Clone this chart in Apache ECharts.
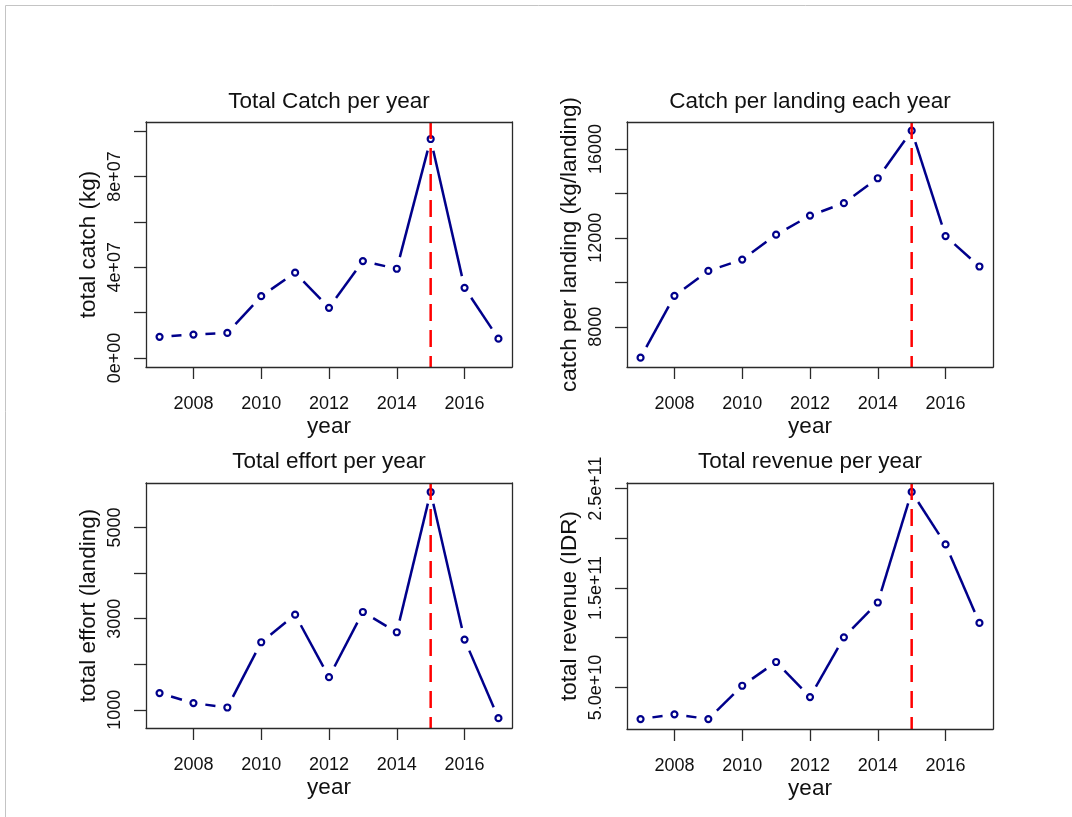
<!DOCTYPE html>
<html>
<head>
<meta charset="utf-8">
<script src="https://cdn.jsdelivr.net/npm/echarts@6/dist/echarts.min.js"></script>
<style>
  html, body { margin: 0; padding: 0; background: #fff; }
  #chart { width: 1072px; height: 817px; }
</style>
</head>
<body>
<div id="chart"></div>
<script>
// Fishery summary, 2007-2017
const years = [2007, 2008, 2009, 2010, 2011, 2012, 2013, 2014, 2015, 2016, 2017];
const totalCatch = [9.3e6, 1.03e7, 1.1e7, 2.72e7, 3.76e7, 2.21e7, 4.27e7, 3.93e7, 9.65e7, 3.09e7, 8.5e6];
const catchPerLanding = [6610, 9390, 10510, 11020, 12140, 13000, 13560, 14680, 16820, 12080, 10710];
const totalEffort = [1366, 1147, 1050, 2482, 3087, 1716, 3146, 2701, 5780, 2540, 815];
const totalRevenue = [1.82e10, 2.3e10, 1.82e10, 5.17e10, 7.56e10, 4.03e10, 1.004e11, 1.354e11, 2.466e11, 1.938e11, 1.149e11];
const peakYear = 2015;

// axis ticks and labels
const yearTicks = [2008, 2010, 2012, 2014, 2016];
const catchTicks = [0, 2e7, 4e7, 6e7, 8e7, 1e8];
const catchLabelValues = [0, 4e7, 8e7];
const catchLabelText = ['0e+00', '4e+07', '8e+07'];
const cplTicks = [8000, 10000, 12000, 14000, 16000];
const cplLabelValues = [8000, 12000, 16000];
const cplLabelText = ['8000', '12000', '16000'];
const effortTicks = [1000, 2000, 3000, 4000, 5000];
const effortLabelValues = [1000, 3000, 5000];
const effortLabelText = ['1000', '3000', '5000'];
const revenueTicks = [5e10, 1e11, 1.5e11, 2e11, 2.5e11];
const revenueLabelValues = [5e10, 1.5e11, 2.5e11];
const revenueLabelText = ['5.0e+10', '1.5e+11', '2.5e+11'];

const FONT = "'Liberation Sans', Arial, Helvetica, sans-serif";
const TEXT = '#111';
const BOX = '#2a2a2a';
const NAVY = '#00008B';
const RED = '#FF0000';
const POINT_GAP = 12; // segments stop this many pixels short of each point

const panels = [
  { title: 'Total Catch per year', ylab: 'total catch (kg)', values: totalCatch,
    ymin: -4e6, ymax: 1.04e8, ticks: catchTicks, lv: catchLabelValues, lt: catchLabelText,
    left: 146, top: 122, height: 245, titleTop: 91 },
  { title: 'Catch per landing each year', ylab: 'catch per landing (kg/landing)', values: catchPerLanding,
    ymin: 6190, ymax: 17210, ticks: cplTicks, lv: cplLabelValues, lt: cplLabelText,
    left: 627, top: 122, height: 245, titleTop: 91 },
  { title: 'Total effort per year', ylab: 'total effort (landing)', values: totalEffort,
    ymin: 600, ymax: 5977, ticks: effortTicks, lv: effortLabelValues, lt: effortLabelText,
    left: 146, top: 483, height: 245, titleTop: 451 },
  { title: 'Total revenue per year', ylab: 'total revenue (IDR)', values: totalRevenue,
    ymin: 8.2e9, ymax: 2.556e11, ticks: revenueTicks, lv: revenueLabelValues, lt: revenueLabelText,
    left: 627, top: 483, height: 246, titleTop: 451 }
];
const PW = 366;
const XMIN = 2006.6, XMAX = 2017.4;

// draws one shortened segment between consecutive points
function renderSegment(params, api) {
  const a = api.coord([api.value(0), api.value(1)]);
  const b = api.coord([api.value(2), api.value(3)]);
  const dx = b[0] - a[0], dy = b[1] - a[1];
  const len = Math.hypot(dx, dy);
  if (len <= 2 * POINT_GAP) return null;
  const ux = dx / len, uy = dy / len;
  return {
    type: 'line',
    shape: {
      x1: a[0] + ux * POINT_GAP, y1: a[1] + uy * POINT_GAP,
      x2: b[0] - ux * POINT_GAP, y2: b[1] - uy * POINT_GAP
    },
    style: { stroke: NAVY, lineWidth: 2.5, lineCap: 'butt' }
  };
}

const option = {
  backgroundColor: '#fff',
  animation: false,
  title: [], grid: [], xAxis: [], yAxis: [], series: [],
  graphic: [
    { type: 'line', shape: { x1: 5.5, y1: 5.5, x2: 1072, y2: 5.5 }, style: { stroke: '#c4c4c4', lineWidth: 1 } },
    { type: 'line', shape: { x1: 5.5, y1: 5.5, x2: 5.5, y2: 817 }, style: { stroke: '#c4c4c4', lineWidth: 1 } }
  ]
};

panels.forEach((p, i) => {
  option.title.push({
    text: p.title, left: p.left + PW / 2, top: p.titleTop, textAlign: 'center', padding: 0,
    textStyle: { fontSize: 22.5, fontWeight: 'normal', color: TEXT, fontFamily: FONT, lineHeight: 22 }
  });
  option.grid.push({ left: p.left, top: p.top, width: PW, height: p.height, containLabel: false });

  const boxLine = { show: true, onZero: false, lineStyle: { color: BOX, width: 1.3 } };
  // bottom x axis with ticks, labels and name
  option.xAxis.push({
    gridIndex: i, type: 'value', min: XMIN, max: XMAX, position: 'bottom', z: 6,
    axisLine: boxLine,
    axisTick: { show: true, length: 12, customValues: yearTicks, lineStyle: { color: BOX, width: 1.3 } },
    axisLabel: { show: true, customValues: yearTicks, margin: 28, fontSize: 18, lineHeight: 18,
      color: TEXT, fontFamily: FONT, formatter: v => String(v) },
    splitLine: { show: false },
    name: 'year', nameLocation: 'middle', nameGap: 49,
    nameTextStyle: { fontSize: 22.5, lineHeight: 22, color: TEXT, fontFamily: FONT }
  });
  // top edge of the box
  option.xAxis.push({
    gridIndex: i, type: 'value', min: XMIN, max: XMAX, position: 'top', z: 6,
    axisLine: boxLine, axisTick: { show: false }, axisLabel: { show: false }, splitLine: { show: false }
  });
  // left y axis
  option.yAxis.push({
    gridIndex: i, type: 'value', min: p.ymin, max: p.ymax, position: 'left', z: 6,
    axisLine: boxLine,
    axisTick: { show: true, length: 12, customValues: p.ticks, lineStyle: { color: BOX, width: 1.3 } },
    axisLabel: { show: true, customValues: p.lv, rotate: 90, margin: 22, fontSize: 18, lineHeight: 18,
      color: TEXT, fontFamily: FONT,
      formatter: v => { const k = p.lv.indexOf(v); return k >= 0 ? p.lt[k] : ''; } },
    splitLine: { show: false },
    name: p.ylab, nameLocation: 'middle', nameRotate: 90, nameGap: 46,
    nameTextStyle: { fontSize: 22.5, lineHeight: 22, color: TEXT, fontFamily: FONT }
  });
  // right edge of the box
  option.yAxis.push({
    gridIndex: i, type: 'value', min: p.ymin, max: p.ymax, position: 'right', z: 6,
    axisLine: boxLine, axisTick: { show: false }, axisLabel: { show: false }, splitLine: { show: false }
  });

  const pts = years.map((y, k) => [y, p.values[k]]);
  const segs = years.slice(0, -1).map((y, k) => [y, p.values[k], years[k + 1], p.values[k + 1]]);
  const xi = i * 2, yi = i * 2;
  // line segments with gaps at the points
  option.series.push({
    type: 'custom', xAxisIndex: xi, yAxisIndex: yi, data: segs, z: 2, silent: true,
    encode: { x: [0, 2], y: [1, 3] },
    renderItem: renderSegment
  });
  // open circle markers
  option.series.push({
    type: 'scatter', xAxisIndex: xi, yAxisIndex: yi, data: pts, z: 4, silent: true,
    symbol: 'circle', symbolSize: 6,
    itemStyle: { color: 'rgba(255,255,255,0)', borderColor: NAVY, borderWidth: 2.2, opacity: 1 }
  });
  // dashed reference line at the peak year, spanning the plot region
  option.series.push({
    type: 'line', xAxisIndex: xi, yAxisIndex: yi, z: 5, silent: true,
    data: [[peakYear, p.ymax], [peakYear, p.ymin]],
    showSymbol: false, symbol: 'none',
    lineStyle: { color: RED, width: 2.5, type: [17, 9], cap: 'butt' }
  });
});

const chart = echarts.init(document.getElementById('chart'), null, { renderer: 'canvas' });
chart.setOption(option);
</script>
</body>
</html>
